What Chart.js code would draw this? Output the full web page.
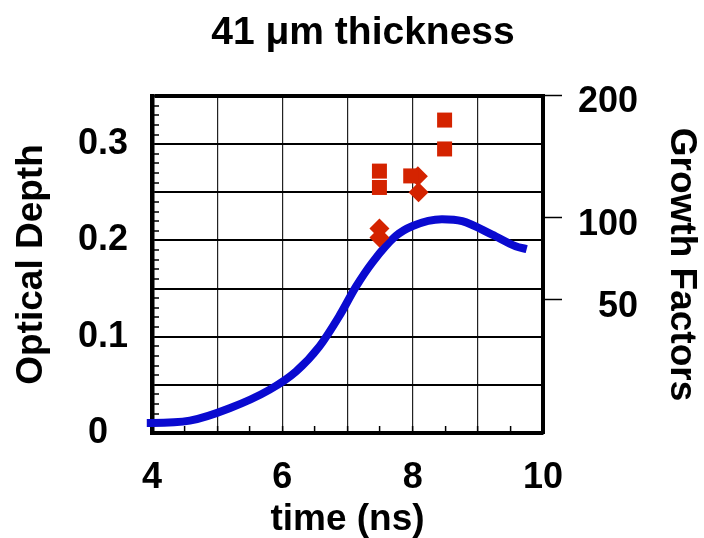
<!DOCTYPE html>
<html>
<head>
<meta charset="utf-8">
<title>41 μm thickness</title>
<script src="https://cdn.jsdelivr.net/npm/chart.js@4.4.1/dist/chart.umd.min.js"></script>
<style>
  html, body { margin: 0; padding: 0; background: #fff; }
  #chart { display: block; }
</style>
</head>
<body>
<canvas id="chart" width="704" height="538"></canvas>
<script>
// Blue model curve: optical depth vs time (ns)
const curveTime  = [3.92, 4.0, 4.58, 5.19, 5.8, 6.21, 6.57, 6.87, 7.13, 7.38, 7.74, 8.0, 8.45, 8.76, 9.22, 9.58, 9.75];
const curveDepth = [0.0105, 0.0105, 0.0128, 0.0257, 0.0448, 0.0639, 0.090, 0.121, 0.152, 0.177, 0.2045, 0.215, 0.222, 0.220, 0.206, 0.194, 0.191];

// Red measured points
const squareTime  = [7.49, 7.49, 7.97, 8.49, 8.49];
const squareDepth = [0.272, 0.255, 0.267, 0.325, 0.295];
const diamondTime  = [7.49, 7.49, 8.08, 8.09];
const diamondDepth = [0.2125, 0.203, 0.2667, 0.250];

// Axis ticks
const timeLabels = [4, 6, 8, 10];
const depthLabels = [0, 0.1, 0.2, 0.3];
const growthLabels = [200, 100, 50];
const growthAtDepth = [0.351, 0.2236, 0.1385];   // where each growth label sits on the depth scale

const RED = '#d42300';
const BLUE = '#0a0ad0';
const FONT = 'Liberation Sans, Arial, Helvetica, sans-serif';

const near = (a, b) => Math.abs(a - b) < 1e-6;
const toPoints = (xs, ys) => xs.map((x, i) => ({ x: x, y: ys[i] }));
const bold = (size) => ({ family: FONT, size: size, weight: 'bold' });

// minor tick positions
const timeTicks = [];
for (let t = 4; t <= 10.0001; t += 0.5) timeTicks.push(+t.toFixed(2));
const depthTicks = [];
for (let d = 0; d <= 0.3501; d += 0.01) depthTicks.push(+d.toFixed(2));

new Chart(document.getElementById('chart'), {
    type: 'scatter',
    data: {
        datasets: [
            {
                label: 'squares',
                data: toPoints(squareTime, squareDepth),
                pointStyle: 'rect',
                pointRadius: 10.6,
                backgroundColor: RED,
                borderWidth: 0,
                order: 0
            },
            {
                label: 'diamonds',
                data: toPoints(diamondTime, diamondDepth),
                pointStyle: 'rectRot',
                pointRadius: 10,
                backgroundColor: RED,
                borderWidth: 0,
                order: 1
            },
            {
                label: 'model',
                data: toPoints(curveTime, curveDepth),
                showLine: true,
                borderColor: BLUE,
                borderWidth: 8,
                pointRadius: 0,
                cubicInterpolationMode: 'monotone',
                clip: false,
                order: 2
            }
        ]
    },
    options: {
        responsive: false,
        animation: false,
        events: [],
        layout: { padding: { left: 22 } },
        plugins: {
            legend: { display: false },
            tooltip: { enabled: false },
            title: {
                display: true,
                text: '41 μm thickness',
                color: '#000',
                font: bold(39),
                padding: { top: 9.6, bottom: 39.6 }
            }
        },
        scales: {
            x: {
                type: 'linear',
                min: 4,
                max: 10,
                afterBuildTicks: (scale) => { scale.ticks = timeTicks.map(v => ({ value: v })); },
                afterFit: (scale) => { scale.height = 105; },
                ticks: {
                    autoSkip: false,
                    maxRotation: 0,
                    padding: 30.8,
                    color: '#000',
                    font: bold(36),
                    callback: (v) => timeLabels.includes(v) ? String(v) : ''
                },
                grid: {
                    tickLength: -7,
                    tickColor: '#000',
                    tickWidth: 1.5,
                    color: (c) => Number.isInteger(c.tick.value) ? '#222' : 'rgba(0,0,0,0)',
                    lineWidth: 1.2
                },
                border: { display: true, color: '#000', width: 4 },
                title: {
                    display: true,
                    text: 'time (ns)',
                    color: '#000',
                    font: bold(37),
                    padding: { top: 0, bottom: -4 }
                }
            },
            y: {
                type: 'linear',
                position: 'left',
                min: 0,
                max: 0.35,
                afterBuildTicks: (scale) => { scale.ticks = depthTicks.map(v => ({ value: v })); },
                afterFit: (scale) => { scale.width = 130; },
                ticks: {
                    autoSkip: false,
                    padding: 31,
                    color: '#000',
                    font: bold(36),
                    callback: (v) => {
                        if (!depthLabels.some(l => near(l, v))) return '';
                        return v === 0 ? '0  ' : String(v);
                    }
                },
                grid: {
                    tickLength: -7,
                    tickColor: '#000',
                    tickWidth: 1.5,
                    color: (c) => near(c.tick.value * 20, Math.round(c.tick.value * 20)) ? '#000' : 'rgba(0,0,0,0)',
                    lineWidth: (c) => near(c.tick.value, 0.35) ? 4 : 2
                },
                border: { display: true, color: '#000', width: 4.5 },
                title: {
                    display: true,
                    text: 'Optical Depth',
                    color: '#000',
                    font: bold(37),
                    padding: { top: -12.2, bottom: 0 }
                }
            },
            y2: {
                type: 'linear',
                position: 'right',
                weight: 1,
                min: 0,
                max: 0.35,
                afterBuildTicks: (scale) => { scale.ticks = growthAtDepth.map(v => ({ value: v })); },
                afterFit: (scale) => { scale.width = 95; },
                ticks: {
                    autoSkip: false,
                    labelOffset: 7,
                    crossAlign: 'far',
                    color: '#000',
                    font: bold(36),
                    callback: (v) => {
                        const i = growthAtDepth.findIndex(g => near(g, v));
                        return i >= 0 ? String(growthLabels[i]) : '';
                    }
                },
                grid: {
                    drawOnChartArea: false,
                    tickLength: 19,
                    tickColor: '#000',
                    tickWidth: 1.5
                },
                border: { display: true, color: '#000', width: 4 }
            },
            growthTitle: {
                type: 'linear',
                position: 'right',
                weight: 2,
                min: 0,
                max: 0.35,
                afterFit: (scale) => { scale.width = 66; },
                ticks: { display: false },
                grid: { display: false },
                border: { display: false },
                title: {
                    display: true,
                    text: 'Growth Factors',
                    color: '#000',
                    font: bold(37),
                    padding: { top: 0.8, bottom: 0 }
                }
            }
        }
    }
});
</script>
</body>
</html>
